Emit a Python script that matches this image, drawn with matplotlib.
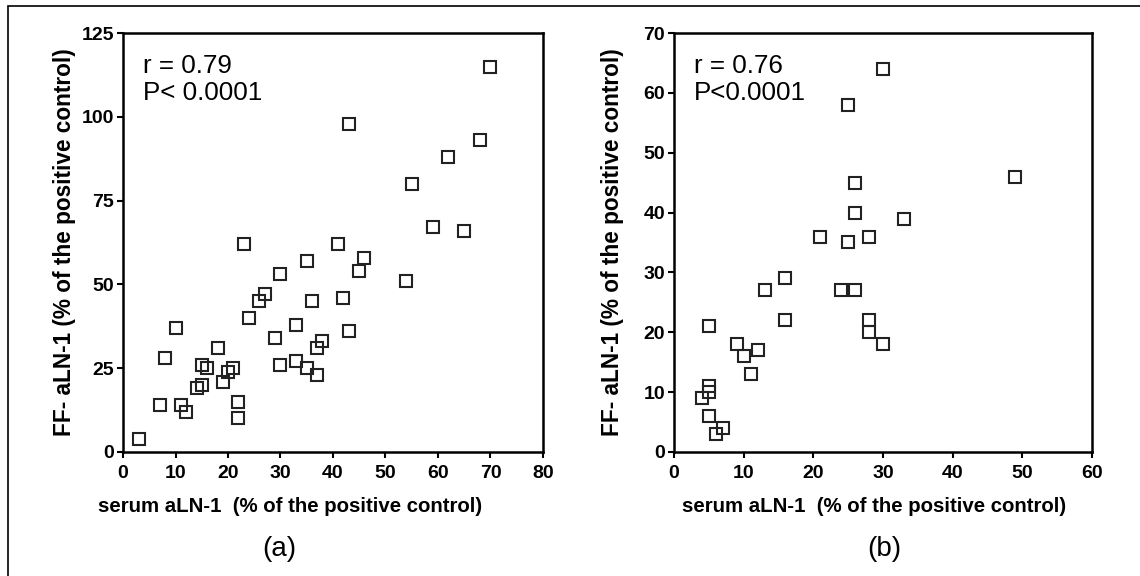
import matplotlib
matplotlib.use('Agg')
import matplotlib.pyplot as plt
from matplotlib.patches import Rectangle

plt.rcParams['font.family'] = ['Liberation Sans', 'DejaVu Sans']

# panel (a): serum vs FF aLN-1
serum_a = [3, 7, 8, 10, 11, 12, 14, 15, 15, 16, 18, 19, 20, 21, 22, 22, 23, 24, 26, 27,
           29, 30, 30, 33, 33, 35, 35, 36, 37, 37, 38, 41, 42, 43, 43, 45, 46, 54, 55, 59,
           62, 65, 68, 70]
ff_a = [4, 14, 28, 37, 14, 12, 19, 20, 26, 25, 31, 21, 24, 25, 15, 10, 62, 40, 45, 47,
        34, 26, 53, 38, 27, 57, 25, 45, 23, 31, 33, 62, 46, 36, 98, 54, 58, 51, 80, 67,
        88, 66, 93, 115]

# panel (b)
serum_b = [4, 5, 5, 5, 5, 6, 7, 9, 10, 12, 11, 13, 16, 16, 24, 26, 25, 21, 25, 26,
           26, 28, 30, 33, 49, 28, 28, 30]
ff_b = [9, 21, 11, 10, 6, 3, 4, 18, 16, 17, 13, 27, 29, 22, 27, 27, 58, 36, 35, 45,
        40, 36, 64, 39, 46, 22, 20, 18]

stats_a = 'r = 0.79\nP< 0.0001'
stats_b = 'r = 0.76\nP<0.0001'

xlabel = 'serum aLN-1  (% of the positive control)'
ylabel = 'FF- aLN-1 (% of the positive control)'

fig = plt.figure(figsize=(11.4, 5.76), dpi=100)

# outer frame
fig.patches.append(Rectangle((8 / 1140, -0.1), 1.2, 1.1 - 6 / 576, transform=fig.transFigure,
                             fill=False, edgecolor='black', linewidth=1.2))

ax_a = fig.add_axes([0.1079, 0.2153, 0.3684, 0.7274])
ax_b = fig.add_axes([0.5912, 0.2153, 0.3667, 0.7274])

panels = [
    (ax_a, serum_a, ff_a, stats_a, (0, 80), range(0, 81, 10), (0, 125), range(0, 126, 25), 0.398, -0.112, '(a)', 0.245),
    (ax_b, serum_b, ff_b, stats_b, (0, 60), range(0, 61, 10), (0, 70), range(0, 71, 10), 0.478, -0.119, '(b)', 0.776),
]

for ax, x, y, stats, xlim, xt, ylim, yt, xlab_x, ylab_x, tag, tag_x in panels:
    ax.plot(x, y, linestyle='none', marker='s', markersize=8.5, markerfacecolor='none',
            markeredgecolor='#222222', markeredgewidth=1.5, clip_on=False)
    ax.set_xlim(xlim)
    ax.set_ylim(ylim)
    ax.set_xticks(list(xt))
    ax.set_yticks(list(yt))
    for s in ax.spines.values():
        s.set_linewidth(1.8)
    ax.tick_params(direction='out', length=4.5, width=1.5, labelsize=14, pad=2)
    ax.tick_params(axis='x', pad=5)
    for lab in ax.get_xticklabels() + ax.get_yticklabels():
        lab.set_fontweight('bold')
    ax.set_xlabel(xlabel, fontsize=14.7, fontweight='bold')
    ax.set_ylabel(ylabel, fontsize=16.3, fontweight='bold')
    ax.xaxis.set_label_coords(xlab_x, -0.107)
    ax.yaxis.set_label_coords(ylab_x, 0.5)
    ax.text(0.048, 0.95, stats, transform=ax.transAxes, fontsize=18.7, va='top', ha='left',
            linespacing=1.15)
    fig.text(tag_x, 0.047, tag, fontsize=20, ha='center', va='center')

fig.savefig('out.png', dpi=100)
